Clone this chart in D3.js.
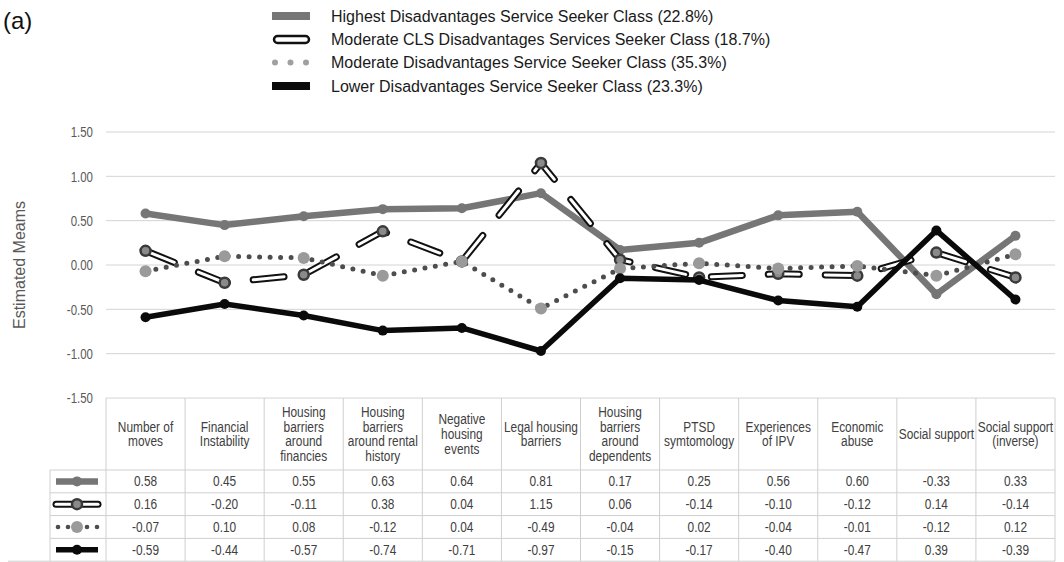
<!DOCTYPE html>
<html>
<head>
<meta charset="utf-8">
<script src="https://cdn.jsdelivr.net/npm/d3@7/dist/d3.min.js"></script>
<style>
  body { margin: 0; background: #fff; }
  svg { display: block; font-family: "Liberation Sans", Arial, sans-serif; }
</style>
</head>
<body>
<div id="chart"></div>
<script>
// categories along the x axis / table header (lines of each header cell)
const categories = [
    ['Number of', 'moves'],
    ['Financial', 'Instability'],
    ['Housing', 'barriers', 'around', 'financies'],
    ['Housing', 'barriers', 'around rental', 'history'],
    ['Negative', 'housing', 'events'],
    ['Legal housing', 'barriers'],
    ['Housing', 'barriers', 'around', 'dependents'],
    ['PTSD', 'symtomology'],
    ['Experiences', 'of IPV'],
    ['Economic', 'abuse'],
    ['Social support'],
    ['Social support', '(inverse)']
];

const seriesNames = [
    'Highest Disadvantages Service Seeker Class (22.8%)',
    'Moderate CLS Disadvantages Services Seeker Class (18.7%)',
    'Moderate Disadvantages Service Seeker Class (35.3%)',
    'Lower Disadvantages Service Seeker Class (23.3%)'
];

const highestValues  = [0.58, 0.45, 0.55, 0.63, 0.64, 0.81, 0.17, 0.25, 0.56, 0.60, -0.33, 0.33];
const moderateClsValues = [0.16, -0.20, -0.11, 0.38, 0.04, 1.15, 0.06, -0.14, -0.10, -0.12, 0.14, -0.14];
const moderateValues = [-0.07, 0.10, 0.08, -0.12, 0.04, -0.49, -0.04, 0.02, -0.04, -0.01, -0.12, 0.12];
const lowerValues    = [-0.59, -0.44, -0.57, -0.74, -0.71, -0.97, -0.15, -0.17, -0.40, -0.47, 0.39, -0.39];

const yTicks = [1.5, 1.0, 0.5, 0.0, -0.5, -1.0, -1.5];

const seriesValues = [highestValues, moderateClsValues, moderateValues, lowerValues];

// drawing styles per series
const styles = [
    { kind: 'solid', color: '#767676', width: 6.5, marker: { r: 5, fill: '#767676', stroke: 'none', sw: 0 } },
    { kind: 'double', color: '#111', width: 7, marker: { r: 5, fill: '#8a8a8a', stroke: '#3a3a3a', sw: 2.5 } },
    { kind: 'dots', color: '#4d4d4d', width: 5, marker: { r: 6, fill: '#9a9a9a', stroke: 'none', sw: 0 } },
    { kind: 'solid', color: '#0a0a0a', width: 5.5, marker: { r: 5, fill: '#0a0a0a', stroke: 'none', sw: 0 } }
];

// Arial Narrow look: squeeze regular glyphs horizontally
const narrow = 0.82;

const width = 1064, height = 562;
const catKeys = categories.map((c, i) => 'c' + i);

const x = d3.scaleBand().domain(catKeys).range([106, 1055]);
const y = d3.scaleLinear().domain([-1.5, 1.5]).range([398, 132]);

const svg = d3.select('#chart').append('svg')
    .attr('width', width)
    .attr('height', height);

// panel label
svg.append('text')
    .attr('x', 3).attr('y', 29)
    .style('font-size', '24px')
    .style('fill', '#111')
    .text('(a)');

// gridlines
svg.append('g')
    .selectAll('line')
    .data(yTicks)
    .join('line')
    .attr('x1', 106).attr('x2', 1055)
    .attr('y1', d => y(d)).attr('y2', d => y(d))
    .attr('stroke', '#d4d4d4')
    .attr('stroke-width', 1);

// y axis labels
const yAxis = svg.append('g')
    .attr('transform', 'translate(93,0)')
    .call(d3.axisLeft(y).tickValues(yTicks).tickSize(0).tickPadding(0).tickFormat(d => d.toFixed(2)));
yAxis.select('.domain').remove();
yAxis.selectAll('text')
    .attr('font-family', null)
    .style('font-size', '15.5px')
    .attr('transform', 'scale(0.74,1)')
    .attr('fill', '#595959');

svg.append('text')
    .attr('transform', 'translate(19,265) rotate(-90)')
    .attr('text-anchor', 'middle')
    .attr('dy', '0.35em')
    .style('font-size', '16px')
    .style('fill', '#595959')
    .text('Estimated Meams');

// line helper
function drawSeries(g, pts, st, withMarkers) {
    const line = d3.line().x(d => d[0]).y(d => d[1]);
    if (st.kind === 'solid') {
        g.append('path').attr('d', line(pts))
            .attr('fill', 'none').attr('stroke', st.color)
            .attr('stroke-width', st.width).attr('stroke-linejoin', 'round');
    } else if (st.kind === 'double') {
        g.append('path').attr('d', line(pts))
            .attr('fill', 'none').attr('stroke', st.color)
            .attr('stroke-width', st.width).attr('stroke-linecap', 'round')
            .attr('stroke-dasharray', withMarkers ? '31,26' : null);
        g.append('path').attr('d', line(pts))
            .attr('fill', 'none').attr('stroke', '#fff')
            .attr('stroke-width', st.width - 4).attr('stroke-linecap', 'round')
            .attr('stroke-dasharray', withMarkers ? '31,26' : null);
    } else {
        g.append('path').attr('d', line(pts))
            .attr('fill', 'none').attr('stroke', st.color)
            .attr('stroke-width', st.width).attr('stroke-linecap', 'round')
            .attr('stroke-dasharray', '0,10.5');
    }
}

function drawMarkers(g, pts, st) {
    g.selectAll(null)
        .data(pts)
        .join('circle')
        .attr('cx', d => d[0]).attr('cy', d => d[1])
        .attr('r', st.marker.r)
        .attr('fill', st.marker.fill)
        .attr('stroke', st.marker.stroke)
        .attr('stroke-width', st.marker.sw);
}

// series
const plot = svg.append('g');
seriesValues.forEach((vals, si) => {
    const pts = vals.map((v, i) => [x(catKeys[i]) + x.bandwidth() / 2, y(v)]);
    const g = plot.append('g');
    drawSeries(g, pts, styles[si], true);
    drawMarkers(g, pts, styles[si]);
});

// top legend
const legend = svg.append('g');
const legendRowY = [16, 39.5, 62.5, 86];
seriesNames.forEach((name, si) => {
    const ly = legendRowY[si];
    const st = styles[si];
    const g = legend.append('g');
    if (si === 0 || si === 3) {
        g.append('rect').attr('x', 272).attr('y', ly - 4).attr('width', 38).attr('height', 8)
            .attr('fill', st.color);
    } else if (si === 1) {
        g.append('rect').attr('x', 274).attr('y', ly - 3.5).attr('width', 35).attr('height', 7)
            .attr('rx', 3.5).attr('fill', '#fff').attr('stroke', '#111').attr('stroke-width', 2.5);
    } else {
        g.selectAll('circle').data([0, 1, 2]).join('circle')
            .attr('cx', d => 275 + d * 15.5).attr('cy', ly).attr('r', 3)
            .attr('fill', '#a0a0a0');
    }
    g.append('text')
        .attr('x', 331).attr('y', ly)
        .attr('dy', '0.35em')
        .style('font-size', '16px')
        .style('fill', '#1a1a1a')
        .text(name);
});

// data table
const table = svg.append('g');
const headerTop = 398, headerBottom = 470;
const rowH = 22.8;
const rowYs = seriesValues.map((d, i) => headerBottom + i * rowH);
const tableBottom = headerBottom + seriesValues.length * rowH;
const gridColor = '#cfcfcf';

// vertical lines
const bounds = catKeys.map(k => x(k)).concat([x.range()[1]]);
table.selectAll('.vline')
    .data(bounds)
    .join('line')
    .attr('x1', d => d).attr('x2', d => d)
    .attr('y1', headerTop).attr('y2', tableBottom)
    .attr('stroke', gridColor);
table.append('line')
    .attr('x1', 50).attr('x2', 50)
    .attr('y1', headerBottom).attr('y2', tableBottom)
    .attr('stroke', gridColor);

// horizontal lines
table.selectAll('.hline')
    .data(rowYs)
    .join('line')
    .attr('x1', 50).attr('x2', 1055)
    .attr('y1', d => d).attr('y2', d => d)
    .attr('stroke', gridColor);
table.append('line')
    .attr('x1', 8).attr('x2', 1055)
    .attr('y1', tableBottom).attr('y2', tableBottom)
    .attr('stroke', gridColor);

// header text
categories.forEach((lines, i) => {
    const cx = x(catKeys[i]) + x.bandwidth() / 2;
    const lh = 14.8;
    const midY = (headerTop + headerBottom) / 2;
    const t = table.append('text')
        .attr('transform', `translate(${cx},0) scale(${narrow},1)`)
        .attr('text-anchor', 'middle')
        .style('font-size', '14.5px')
        .style('fill', '#404040');
    lines.forEach((ln, j) => {
        t.append('tspan')
            .attr('x', 0)
            .attr('y', midY + (j - (lines.length - 1) / 2) * lh)
            .attr('dy', '0.35em')
            .text(ln);
    });
});

// values
seriesValues.forEach((vals, si) => {
    const cy = rowYs[si] + rowH / 2;
    table.append('g')
        .selectAll('text')
        .data(vals)
        .join('text')
        .attr('transform', (d, i) => `translate(${x(catKeys[i]) + x.bandwidth() / 2},${cy}) scale(${narrow},1)`)
        .attr('dy', '0.35em')
        .attr('text-anchor', 'middle')
        .style('font-size', '14.5px')
        .style('fill', '#404040')
        .text(d => d.toFixed(2));

    // legend key in table
    const g = table.append('g');
    const pts = [[56, cy], [98, cy]];
    drawSeries(g, pts, styles[si], false);
    if (si === 2) {
        g.selectAll('path').remove();
        g.selectAll(null).data([58, 68, 87, 97]).join('circle')
            .attr('cx', d => d).attr('cy', cy).attr('r', 2.3).attr('fill', styles[si].color);
    }
    drawMarkers(g, [[77, cy]], styles[si]);
});
</script>
</body>
</html>
